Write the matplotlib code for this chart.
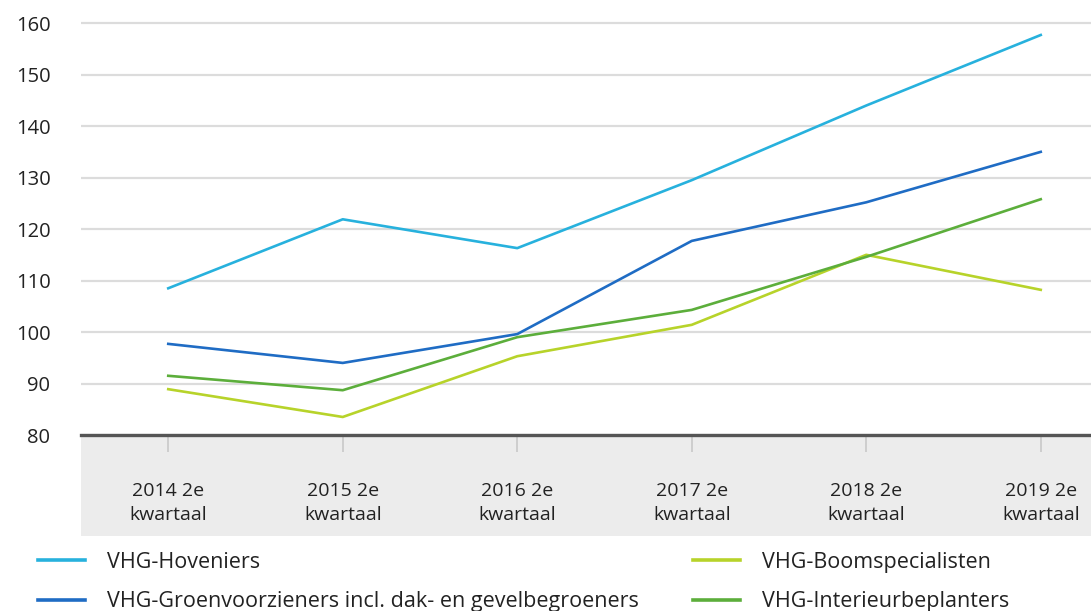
import matplotlib.pyplot as plt
from matplotlib.patches import Rectangle

plt.rcParams['font.family'] = ['Open Sans', 'DejaVu Sans']

# data
kwartalen = ['2014 2e\nkwartaal', '2015 2e\nkwartaal', '2016 2e\nkwartaal',
             '2017 2e\nkwartaal', '2018 2e\nkwartaal', '2019 2e\nkwartaal']
hoveniers = [108.5, 121.9, 116.3, 129.5, 144.0, 157.7]
groenvoorzieners = [97.7, 94.0, 99.6, 117.7, 125.2, 135.0]
boomspecialisten = [88.9, 83.5, 95.3, 101.4, 115.0, 108.2]
interieur = [91.5, 88.7, 99.0, 104.3, 114.6, 125.8]

W, H = 1091, 611
fig = plt.figure(figsize=(W / 100, H / 100), dpi=100)

# plot area in pixels: x 81..1128 (runs off the right edge), y 18..435
ax = fig.add_axes([81 / W, (H - 435) / H, (1128 - 81) / W, (435 - 18) / H])

# grey band under the x axis
fig.patches.append(Rectangle((81 / W, (H - 536) / H), (W - 81) / W, (536 - 435) / H,
                             transform=fig.transFigure, facecolor='#ececec',
                             edgecolor='none', zorder=-1))

x = range(len(kwartalen))
l1, = ax.plot(x, hoveniers, color='#27b1dd', lw=1.9)
l2, = ax.plot(x, groenvoorzieners, color='#1f6cc4', lw=1.9)
l3, = ax.plot(x, boomspecialisten, color='#b7d32a', lw=1.9)
l4, = ax.plot(x, interieur, color='#5cae3b', lw=1.9)

ax.set_xlim(-0.5, 5.5)
ax.set_ylim(80, 161)
ax.set_yticks(range(80, 161, 10))
ax.yaxis.grid(True, color='#dcdcdc', lw=1.6)
ax.set_axisbelow(True)
for s in ['top', 'right', 'left']:
    ax.spines[s].set_visible(False)
ax.spines['bottom'].set_color('#555555')
ax.spines['bottom'].set_linewidth(2.4)

ax.set_xticks(list(x))
ax.set_xticklabels(kwartalen, linespacing=1.4)
ax.tick_params(axis='x', length=12, width=1.2, color='#c8c8c8', pad=22,
               labelsize=14, labelcolor='#222222')
ax.tick_params(axis='y', length=0, pad=22, labelsize=14.5, labelcolor='#222222')
ax.patch.set_visible(False)

leg_kw = dict(loc='upper left', frameon=False, fontsize=15.5, handlelength=2.2,
              handletextpad=1.0, labelspacing=0.85, borderpad=0, borderaxespad=0)
lg1 = fig.legend([l1, l2], ['VHG-Hoveniers',
                            'VHG-Groenvoorzieners incl. dak- en gevelbegroeners'],
                 bbox_to_anchor=(38 / W, (H - 552) / H), **leg_kw)
lg2 = fig.legend([l3, l4], ['VHG-Boomspecialisten', 'VHG-Interieurbeplanters'],
                 bbox_to_anchor=(693 / W, (H - 552) / H), **leg_kw)
for lg in (lg1, lg2):
    for t in lg.get_texts():
        t.set_color('#222222')
    for ln in lg.get_lines():
        ln.set_linewidth(2.6)

fig.savefig('out.png', dpi=100)
